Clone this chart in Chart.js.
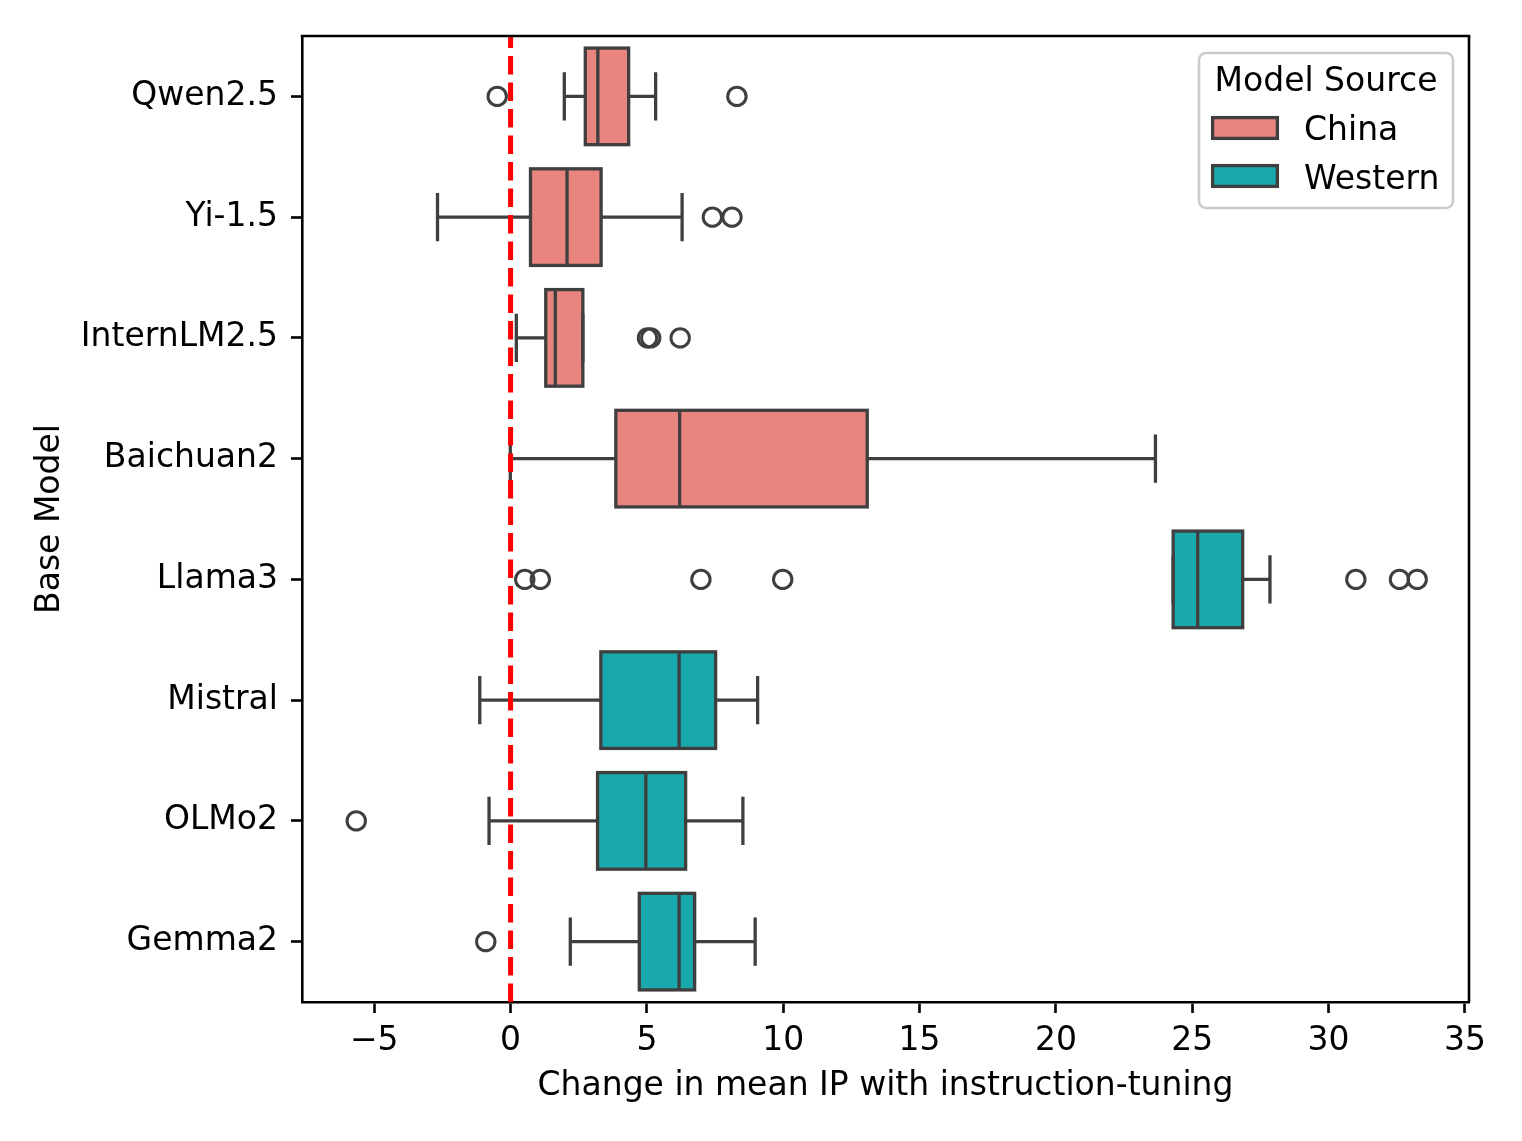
<!DOCTYPE html>
<html><head><meta charset="utf-8">
<script src="https://cdn.jsdelivr.net/npm/chart.js@4.4.1/dist/chart.umd.min.js"></script>
<style>html,body{margin:0;padding:0;background:#fff;} canvas{display:block;}</style>
</head><body>
<canvas id="c" width="1522" height="1141" style="width:1522px;height:1141px"></canvas>
<script>
// ---------- data ----------
const models = ['Qwen2.5','Yi-1.5','InternLM2.5','Baichuan2','Llama3','Mistral','OLMo2','Gemma2'];
const modelSource = ['China','China','China','China','Western','Western','Western','Western'];
const sources = ['China','Western'];
const whiskerLow  = [1.97, -2.68, 0.21, -0.01, 24.30, -1.13, -0.79, 2.19];
const q1          = [2.74,  0.73, 1.29,  3.86, 24.30,  3.31,  3.19, 4.72];
const median      = [3.20,  2.07, 1.64,  6.20, 25.20,  6.18,  4.96, 6.18];
const q3          = [4.33,  3.32, 2.65, 13.08, 26.85,  7.52,  6.42, 6.75];
const whiskerHigh = [5.32,  6.29, 2.65, 23.65, 27.85,  9.06,  8.52, 8.97];
const outliers = [
  [-0.49, 8.30],
  [7.40, 8.12],
  [5.02, 5.14, 6.22],
  [],
  [0.52, 1.09, 6.98, 9.98, 31.00, 32.60, 33.25],
  [],
  [-5.66],
  [-0.91]
];
const xTicks = [-5, 0, 5, 10, 15, 20, 25, 30, 35];
const xRange = [-7.65, 35.15];
const referenceValue = 0;
const xTitle = 'Change in mean IP with instruction-tuning';
const yTitle = 'Base Model';
const legendTitle = 'Model Source';

// ---------- styling ----------
const FONT = 'DejaVu Sans';
const FS = 33;
const EDGE = '#3f3f3f';
const LW = 3.3;
const fills = {China: '#E8857E', Western: '#19A8AC'};

const boxDatasets = sources.map(s => ({
  type: 'bar',
  label: s,
  data: models.map((m, i) => modelSource[i] === s ? [q1[i], q3[i]] : null),
  backgroundColor: fills[s],
  borderWidth: 0,
  grouped: false,
  categoryPercentage: 0.8,
  barPercentage: 1.0,
  order: 2
}));

const outlierPoints = [];
outliers.forEach((vals, i) => vals.forEach(v => outlierPoints.push({x: v, y: models[i]})));

const outlierDataset = {
  type: 'scatter',
  label: 'outliers',
  data: outlierPoints,
  pointRadius: 9.2,
  pointBorderWidth: 3,
  pointBorderColor: EDGE,
  pointBackgroundColor: 'rgba(0,0,0,0)',
  showLine: false,
  order: 1
};

function line(ctx, x1, y1, x2, y2) {
  ctx.beginPath(); ctx.moveTo(x1, y1); ctx.lineTo(x2, y2); ctx.stroke();
}

const boxPlugin = {
  id: 'boxExtras',
  afterDatasetsDraw(chart) {
    const ctx = chart.ctx, xs = chart.scales.x;
    const ca = chart.chartArea;
    ctx.save();
    ctx.strokeStyle = EDGE; ctx.lineWidth = LW; ctx.lineCap = 'butt';
    sources.forEach((s, d) => {
      const meta = chart.getDatasetMeta(d);
      models.forEach((m, i) => {
        if (modelSource[i] !== s) return;
        const el = meta.data[i];
        const y = el.y, h = el.height;
        const pLo = xs.getPixelForValue(whiskerLow[i]);
        const pHi = xs.getPixelForValue(whiskerHigh[i]);
        const pQ1 = Math.min(el.base, el.x), pQ3 = Math.max(el.base, el.x);
        const pMed = xs.getPixelForValue(median[i]);
        const cap = h / 4;
        line(ctx, pLo, y, pQ1, y);
        line(ctx, pQ3, y, pHi, y);
        line(ctx, pLo, y - cap, pLo, y + cap);
        line(ctx, pHi, y - cap, pHi, y + cap);
        ctx.strokeRect(pQ1, y - h / 2, pQ3 - pQ1, h);
        line(ctx, pMed, y - h / 2, pMed, y + h / 2);
      });
    });
    // reference line
    const xr = xs.getPixelForValue(referenceValue);
    ctx.strokeStyle = '#ff0000'; ctx.lineWidth = 5; ctx.setLineDash([18.5, 8]);
    line(ctx, xr, ca.bottom, xr, ca.top);
    ctx.restore();
  },
  afterDraw(chart) {
    const ctx = chart.ctx, ca = chart.chartArea;
    ctx.save();
    // top/right spines
    ctx.strokeStyle = '#000'; ctx.lineWidth = 2.6;
    line(ctx, ca.left - 1.3, ca.top, ca.right + 1.3, ca.top);
    line(ctx, ca.right, ca.top, ca.right, ca.bottom);
    // legend
    const w = 254, h = 155;
    const x0 = ca.right - 16 - w, y0 = ca.top + 17;
    ctx.beginPath();
    ctx.roundRect(x0, y0, w, h, 7);
    ctx.fillStyle = 'rgba(255,255,255,0.8)'; ctx.fill();
    ctx.strokeStyle = '#cccccc'; ctx.lineWidth = 2.6; ctx.stroke();
    ctx.fillStyle = '#000';
    ctx.textBaseline = 'alphabetic';
    ctx.font = `${FS}px "${FONT}"`;
    ctx.textAlign = 'center';
    ctx.fillText(legendTitle, x0 + w / 2, y0 + 38);
    ctx.textAlign = 'left';
    sources.forEach((s, k) => {
      const py = y0 + 64.6 + k * 48;
      ctx.fillStyle = fills[s];
      ctx.fillRect(x0 + 13.6, py, 64.8, 20.8);
      ctx.strokeStyle = EDGE; ctx.lineWidth = LW;
      ctx.strokeRect(x0 + 13.6, py, 64.8, 20.8);
      ctx.fillStyle = '#000';
      ctx.font = `${FS}px "${FONT}"`;
      ctx.fillText(s, x0 + 105, y0 + 87 + k * 48.5);
    });
    ctx.restore();
  }
};

new Chart(document.getElementById('c'), {
  data: {labels: models, datasets: [...boxDatasets, outlierDataset]},
  options: {
    indexAxis: 'y',
    responsive: false,
    animation: false,
    events: [],
    layout: {padding: {left: 0, top: 36, right: 53, bottom: 0}},
    plugins: {legend: {display: false}, tooltip: {enabled: false}},
    scales: {
      x: {
        type: 'linear',
        min: xRange[0], max: xRange[1],
        afterBuildTicks: (scale) => { scale.ticks = xTicks.map(v => ({value: v})); },
        afterFit: (scale) => { scale.height = 139; },
        grid: {display: true, drawOnChartArea: false, drawTicks: true, tickLength: 11, tickWidth: 2.6, tickColor: '#000'},
        border: {display: true, color: '#000', width: 2.6},
        ticks: {
          color: '#000', padding: 9, maxRotation: 0, autoSkip: false,
          font: {family: FONT, size: FS},
          callback: (v) => v < 0 ? '\u2212' + Math.abs(v) : String(v)
        },
        title: {display: true, text: xTitle, color: '#000', font: {family: FONT, size: FS}, padding: {top: 0, bottom: 34.5}}
      },
      y: {
        type: 'category',
        offset: true,
        afterFit: (scale) => { scale.width = 302; },
        grid: {display: true, offset: false, drawOnChartArea: false, drawTicks: true, tickLength: 11, tickWidth: 2.6, tickColor: '#000'},
        border: {display: true, color: '#000', width: 2.6},
        ticks: {color: '#000', padding: 13, autoSkip: false, font: {family: FONT, size: FS}},
        title: {display: true, text: yTitle, color: '#000', font: {family: FONT, size: FS}, padding: {top: 30.2, bottom: 0}}
      }
    }
  },
  plugins: [boxPlugin]
});
</script>
</body></html>
